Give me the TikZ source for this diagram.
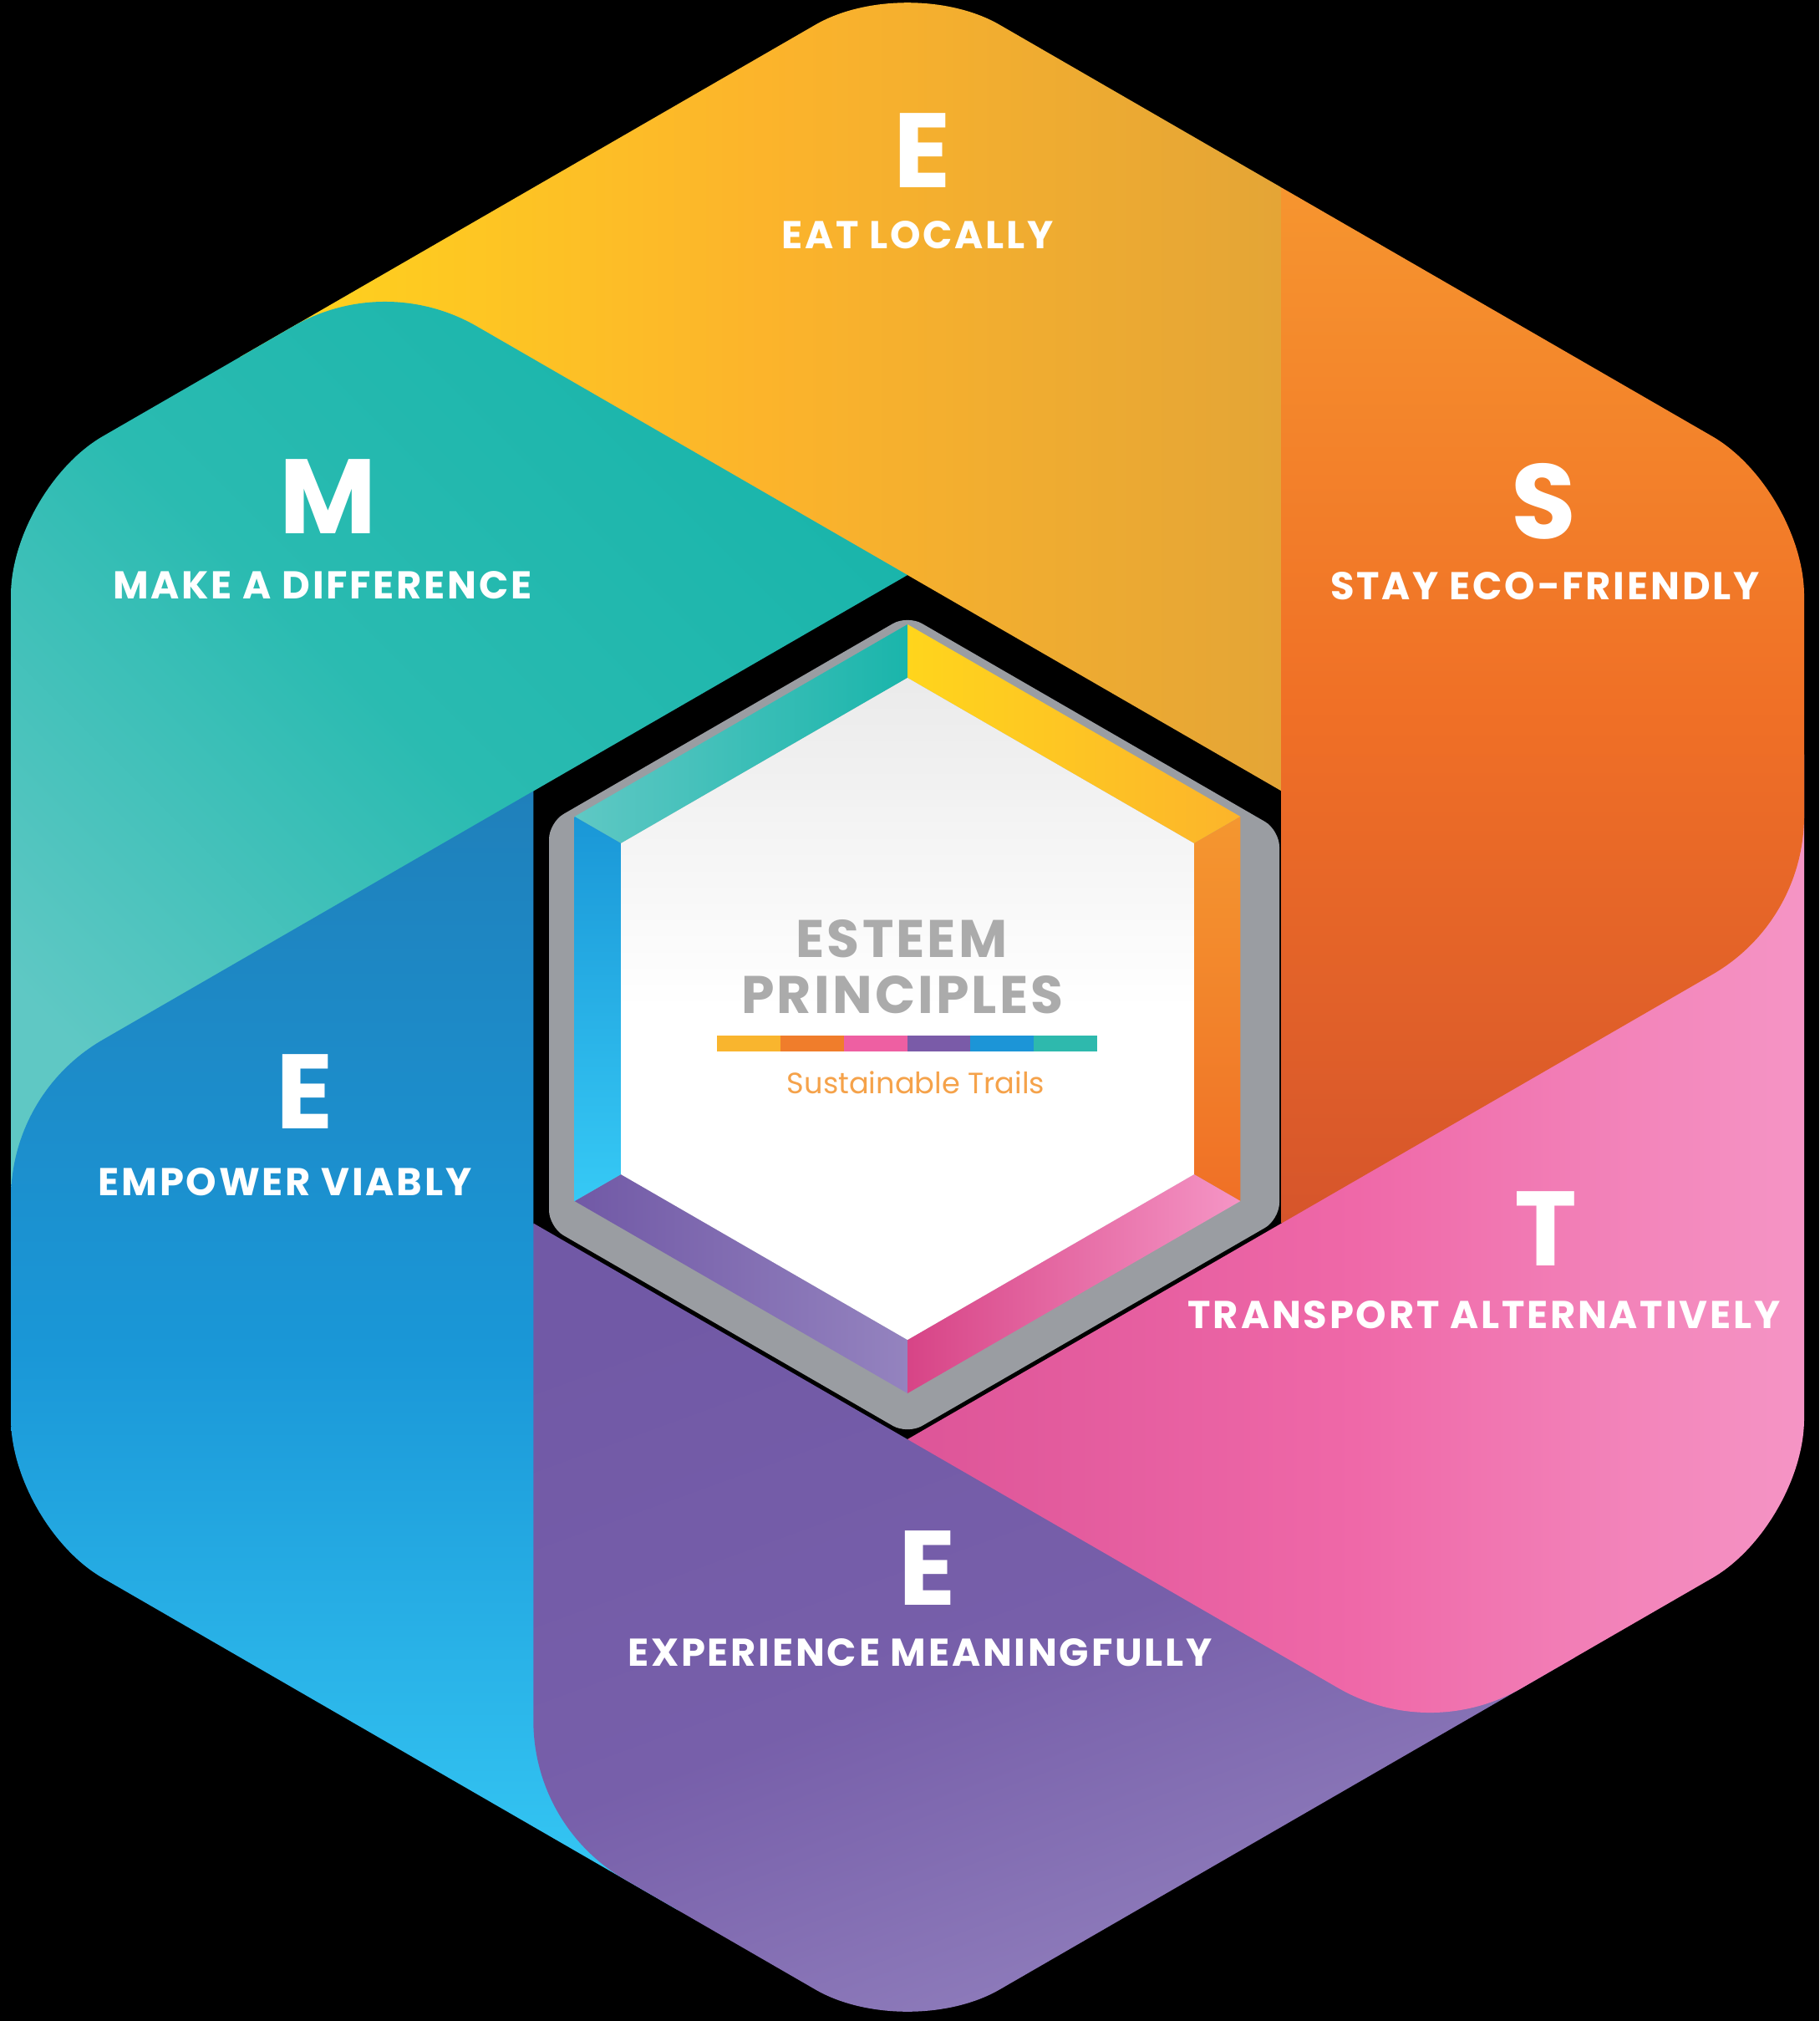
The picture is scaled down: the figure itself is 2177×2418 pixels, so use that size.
\documentclass[tikz,border=0pt]{standalone}
\usepackage{fontspec}
\setmainfont{Poppins}
\usetikzlibrary{calc}
\definecolor{ylA}{HTML}{FFD51C}\definecolor{ylB}{HTML}{FCB42B}\definecolor{ylC}{HTML}{E4A536}
\definecolor{tlA}{HTML}{5FC8C4}\definecolor{tlM}{HTML}{2ABBB1}\definecolor{tlB}{HTML}{1AB5AB}
\definecolor{blA}{HTML}{1F80BB}\definecolor{blB}{HTML}{1A97D7}\definecolor{blC}{HTML}{36C9F5}
\definecolor{puA}{HTML}{7159A6}\definecolor{puB}{HTML}{775FAA}\definecolor{puC}{HTML}{9483BF}
\definecolor{pkA}{HTML}{DD5598}\definecolor{pkB}{HTML}{EF68A8}\definecolor{pkC}{HTML}{F595C5}
\definecolor{orA}{HTML}{F6952F}\definecolor{orB}{HTML}{F07026}\definecolor{orC}{HTML}{D6552B}
\definecolor{frame}{HTML}{9A9DA2}
\definecolor{titlegray}{HTML}{ABABAB}
\definecolor{subor}{HTML}{F5A24A}
\definecolor{barY}{HTML}{F9B52E}\definecolor{barO}{HTML}{F07D2B}\definecolor{barP}{HTML}{EE5FA2}
\definecolor{barU}{HTML}{7A5BA8}\definecolor{barB}{HTML}{1C95D7}\definecolor{barT}{HTML}{2EB9AD}
\begin{document}
\begin{tikzpicture}[x=0.01cm,y=-0.01cm,
  lbl/.style={text=white,inner sep=0pt,font=\bfseries\fontsize{13.2}{15}\selectfont\addfontfeatures{LetterSpace=6}},
  bigl/.style={text=white,inner sep=0pt,font=\bfseries\fontsize{36}{40}\selectfont},
  ttl/.style={text=titlegray,inner sep=0pt,font=\bfseries\fontsize{18}{20}\selectfont\addfontfeatures{LetterSpace=5}},
  piece/.style={draw=none}]
\useasboundingbox (0,0) rectangle (2177,2418);
\fill[black] (0,0) rectangle (2177,2418);
% outer hexagon
\coordinate (OT) at (1086,-34);
\coordinate (OUR) at (2159,585.5);
\coordinate (OLR) at (2159,1824.5);
\coordinate (OB) at (1086,2444);
\coordinate (OLL) at (13,1824.5);
\coordinate (OUL) at (13,585.5);
% inner hole
\coordinate (IT) at (1086,688);
\coordinate (IUR) at (1533.7,946.5);
\coordinate (ILR) at (1533.7,1463.5);
\coordinate (IB) at (1086,1722);
\coordinate (ILL) at (638.3,1463.5);
\coordinate (IUL) at (638.3,946.5);
% long side ends
\coordinate (E1) at (460.7,327);
\coordinate (E2) at (13,1307.5);
\coordinate (E3) at (638.3,2185.5);
\coordinate (E4) at (1711.3,2083);
\coordinate (E5) at (2159,1102.5);
\coordinate (E6) at (1533.7,224.5);
\coordinate (E1x) at (287.5,427);
\coordinate (E2x) at (13,1507.5);
\coordinate (E3x) at (811.5,2285.5);
\coordinate (E4x) at (1884.5,1983);
\coordinate (E5x) at (2159,902.5);
% tangent points of rounded leading corners
\coordinate (t1a) at (570.7,390.5); \coordinate (t1b) at (350.7,390.5);
\coordinate (t2a) at (123,1244);    \coordinate (t2b) at (13,1434.5);
\coordinate (t3a) at (638.3,2058.5);\coordinate (t3b) at (748.3,2249);
\coordinate (t4a) at (1601.3,2019.5);\coordinate (t4b) at (1821.3,2019.5);
\coordinate (t5a) at (2049,1166);   \coordinate (t5b) at (2159,975.5);
\begin{scope}
\clip[rounded corners=1.27cm] (OT) -- (OUR) -- (OLR) -- (OB) -- (OLL) -- (OUL) -- cycle;
% yellow
\shade[piece,left color=ylA,right color=ylC,middle color=ylB]
  (IUR) -- (E6) -- (OT) -- (E1x) -- (IT) -- cycle;
% teal
\shade[piece,bottom color=tlA,top color=tlB,middle color=tlM,shading angle=-45]
  (IT) -- (t1a) .. controls ($(t1a)!0.62!(E1)$) and ($(t1b)!0.62!(E1)$) .. (t1b)
  -- (OUL) -- (E2x) -- (IUL) -- cycle;
% blue
\shade[piece,top color=blA,bottom color=blC,middle color=blB]
  (IUL) -- (t2a) .. controls ($(t2a)!0.62!(E2)$) and ($(t2b)!0.62!(E2)$) .. (t2b)
  -- (OLL) -- (E3x) -- (ILL) -- cycle;
% purple
\shade[piece,top color=puA,bottom color=puC,middle color=puB,shading angle=20]
  (ILL) -- (t3a) .. controls ($(t3a)!0.62!(E3)$) and ($(t3b)!0.62!(E3)$) .. (t3b)
  -- (OB) -- (E4x) -- (IB) -- cycle;
% pink
\shade[piece,left color=pkA,right color=pkC,middle color=pkB]
  (IB) -- (t4a) .. controls ($(t4a)!0.62!(E4)$) and ($(t4b)!0.62!(E4)$) .. (t4b)
  -- (OLR) -- (E5x) -- (ILR) -- cycle;
% orange
\shade[piece,top color=orA,bottom color=orC,middle color=orB]
  (ILR) -- (t5a) .. controls ($(t5a)!0.62!(E5)$) and ($(t5b)!0.62!(E5)$) .. (t5b)
  -- (OUR) -- (E6) -- (IUR) -- cycle;
\end{scope}
% gray frame
\fill[frame,rounded corners=0.2cm] (1086,736) -- (1531,993) -- (1531,1459) -- (1086,1716) -- (657,1468) -- (657,984) -- cycle;
% bevel
\coordinate (BoT) at (1086,747);   \coordinate (BiT) at (1086,811);
\coordinate (BoUR) at (1484.4,977); \coordinate (BiUR) at (1428.9,1009);
\coordinate (BoLR) at (1484.4,1437);\coordinate (BiLR) at (1428.9,1405);
\coordinate (BoB) at (1086,1667);   \coordinate (BiB) at (1086,1603);
\coordinate (BoLL) at (687.6,1437); \coordinate (BiLL) at (743.1,1405);
\coordinate (BoUL) at (687.6,977);  \coordinate (BiUL) at (743.1,1009);
\shade[left color=tlA,right color=tlB] (BoT) -- (BoUL) -- (BiUL) -- (BiT) -- cycle;
\shade[left color=ylA,right color=ylB] (BoT) -- (BoUR) -- (BiUR) -- (BiT) -- cycle;
\shade[top color=orA!90!ylC,bottom color=orB] (BoUR) -- (BoLR) -- (BiLR) -- (BiUR) -- cycle;
\shade[left color=pkA!80!purple,right color=pkC] (BoLR) -- (BoB) -- (BiB) -- (BiLR) -- cycle;
\shade[left color=puA,right color=puC] (BoB) -- (BoLL) -- (BiLL) -- (BiB) -- cycle;
\shade[top color=blB,bottom color=blC] (BoLL) -- (BoUL) -- (BiUL) -- (BiLL) -- cycle;
% white center
\shade[top color=black!8,bottom color=white,middle color=white] (BiT) -- (BiUR) -- (BiLR) -- (BiB) -- (BiLL) -- (BiUL) -- cycle;
% colour bar
\fill[barY] (858,1239) rectangle (933.8,1258);
\fill[barO] (933.8,1239) rectangle (1009.7,1258);
\fill[barP] (1009.7,1239) rectangle (1085.5,1258);
\fill[barU] (1085.5,1239) rectangle (1161.3,1258);
\fill[barB] (1161.3,1239) rectangle (1237.2,1258);
\fill[barT] (1237.2,1239) rectangle (1313,1258);
% centre text
\node[ttl] (t1) at (1079,1123) {ESTEEM};
\node[ttl] (t2) at (1080,1190) {PRINCIPLES};
\node[text=subor,inner sep=0pt,font=\fontsize{10}{12}\selectfont] (t3) at (1096,1295) {Sustainable Trails};
% labels
\node[bigl] (L1) at (1104,180) {E};
\node[lbl] (D1) at (1098,281) {EAT LOCALLY};
\node[bigl] (L2) at (393,594) {M};
\node[lbl] (D2) at (386,700) {MAKE A DIFFERENCE};
\node[bigl] (L3) at (1847,600) {S};
\node[lbl] (D3) at (1849,701) {STAY ECO-FRIENDLY};
\node[bigl] (L4) at (365,1306) {E};
\node[lbl] (D4) at (341,1414) {EMPOWER VIABLY};
\node[bigl] (L5) at (1850,1470) {T};
\node[lbl] (D5) at (1776,1573) {TRANSPORT ALTERNATIVELY};
\node[bigl] (L6) at (1110,1876) {E};
\node[lbl] (D6) at (1101,1977) {EXPERIENCE MEANINGFULLY};
\end{tikzpicture}
\end{document}
